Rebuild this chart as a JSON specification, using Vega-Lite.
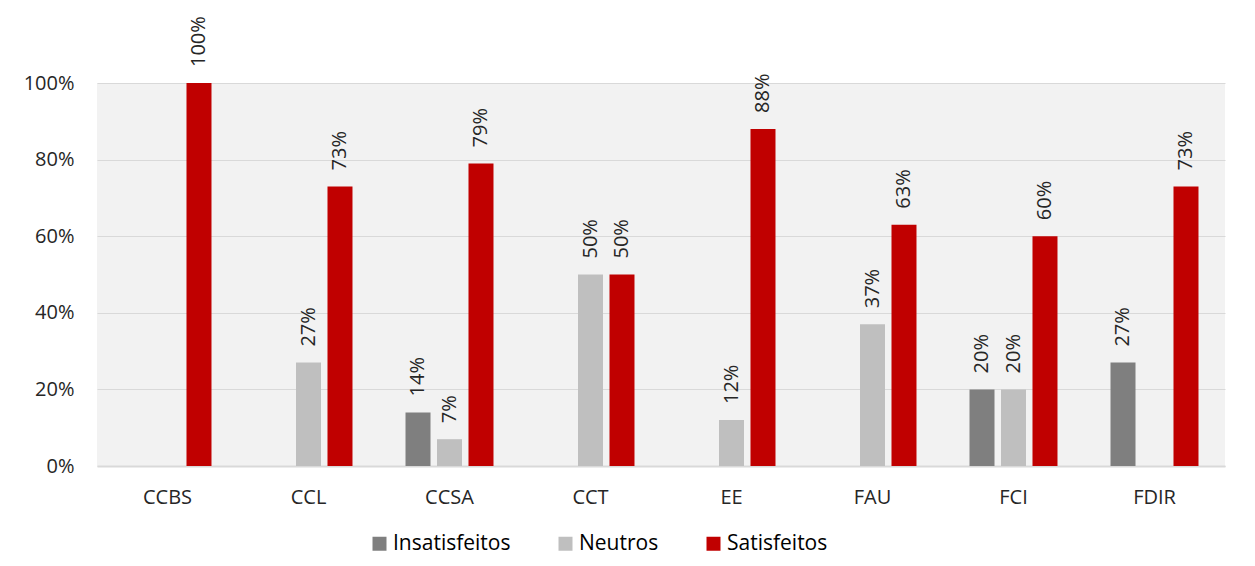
{
  "$schema": "https://vega.github.io/schema/vega-lite/v6.json",
  "autosize": {"type": "none"},
  "padding": {"left": 97, "top": 83, "right": 30, "bottom": 100},
  "width": 1128,
  "height": 383,
  "background": "white",
  "config": {
    "font": "Open Sans",
    "view": {"fill": "#f2f2f2", "stroke": null}
  },
  "data": {
    "values": [
      {"unidade": "CCBS", "grupo": "Satisfeitos", "valor": 1.00},
      {"unidade": "CCL", "grupo": "Neutros", "valor": 0.27},
      {"unidade": "CCL", "grupo": "Satisfeitos", "valor": 0.73},
      {"unidade": "CCSA", "grupo": "Insatisfeitos", "valor": 0.14},
      {"unidade": "CCSA", "grupo": "Neutros", "valor": 0.07},
      {"unidade": "CCSA", "grupo": "Satisfeitos", "valor": 0.79},
      {"unidade": "CCT", "grupo": "Neutros", "valor": 0.50},
      {"unidade": "CCT", "grupo": "Satisfeitos", "valor": 0.50},
      {"unidade": "EE", "grupo": "Neutros", "valor": 0.12},
      {"unidade": "EE", "grupo": "Satisfeitos", "valor": 0.88},
      {"unidade": "FAU", "grupo": "Neutros", "valor": 0.37},
      {"unidade": "FAU", "grupo": "Satisfeitos", "valor": 0.63},
      {"unidade": "FCI", "grupo": "Insatisfeitos", "valor": 0.20},
      {"unidade": "FCI", "grupo": "Neutros", "valor": 0.20},
      {"unidade": "FCI", "grupo": "Satisfeitos", "valor": 0.60},
      {"unidade": "FDIR", "grupo": "Insatisfeitos", "valor": 0.27},
      {"unidade": "FDIR", "grupo": "Satisfeitos", "valor": 0.73}
    ]
  },
  "encoding": {
    "x": {
      "field": "unidade",
      "type": "nominal",
      "sort": ["CCBS", "CCL", "CCSA", "CCT", "EE", "FAU", "FCI", "FDIR"],
      "scale": {"paddingInner": 0.376, "paddingOuter": 0.188},
      "axis": {
        "title": null,
        "labelAngle": 0,
        "labelFontSize": 20,
        "labelColor": "#262626",
        "labelPadding": 21,
        "ticks": false,
        "domainColor": "#d9d9d9",
        "domainWidth": 2
      }
    },
    "xOffset": {
      "field": "grupo",
      "type": "nominal",
      "scale": {
        "domain": ["Insatisfeitos", "Neutros", "Satisfeitos"],
        "paddingInner": 0.206,
        "paddingOuter": 0
      }
    },
    "y": {
      "field": "valor",
      "type": "quantitative",
      "scale": {"domain": [0, 1], "nice": false},
      "axis": {
        "title": null,
        "format": ".0%",
        "values": [0, 0.2, 0.4, 0.6, 0.8, 1],
        "labelFontSize": 20,
        "labelColor": "#262626",
        "labelPadding": 23,
        "ticks": false,
        "domain": false,
        "gridColor": "#d9d9d9",
        "gridWidth": 1
      }
    }
  },
  "layer": [
    {
      "mark": {"type": "bar"},
      "encoding": {
        "color": {
          "field": "grupo",
          "type": "nominal",
          "scale": {
            "domain": ["Insatisfeitos", "Neutros", "Satisfeitos"],
            "range": ["#7f7f7f", "#bfbfbf", "#c00000"]
          },
          "legend": {
            "title": null,
            "orient": "none",
            "direction": "horizontal",
            "legendX": 272,
            "legendY": 450,
            "symbolType": "square",
            "symbolSize": 196,
            "symbolStrokeWidth": 0,
            "symbolOpacity": 1,
            "labelFontSize": 21,
            "labelColor": "#000000",
            "labelOffset": 3,
            "labelLimit": 300,
            "columnPadding": 44
          }
        }
      }
    },
    {
      "mark": {
        "type": "text",
        "angle": 270,
        "align": "left",
        "baseline": "middle",
        "dx": 16,
        "fontSize": 20,
        "color": "#262626"
      },
      "encoding": {
        "text": {"field": "valor", "type": "quantitative", "format": ".0%"}
      }
    }
  ]
}
